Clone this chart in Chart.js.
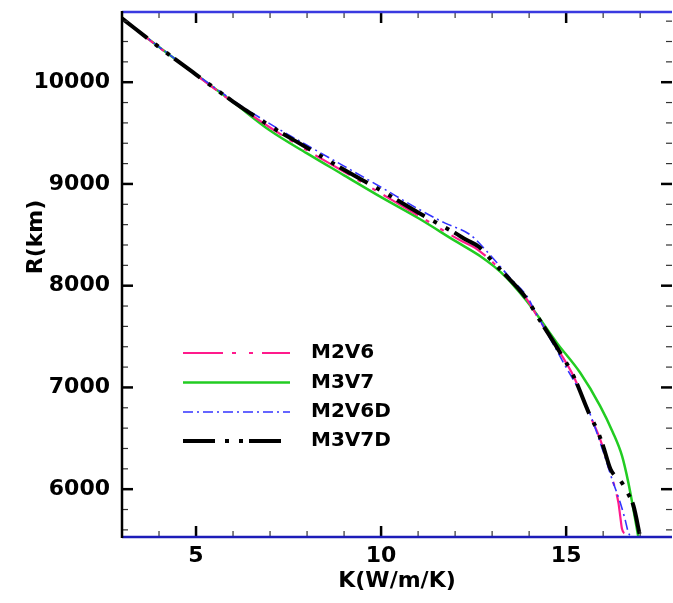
<!DOCTYPE html>
<html lang="en">
<head>
  <meta charset="UTF-8">
  <title>R(km) vs K(W/m/K)</title>
  <script src="https://cdn.jsdelivr.net/npm/chart.js"></script>
  <style>
    body { margin: 0; background: #fff; }
  </style>
</head>
<body>
  <canvas id="myChart" width="673" height="603"></canvas>

  <script>
    // ---- data ----
    const kM2V6 = [3, 4, 5, 6, 7, 8, 9, 10, 11, 11.6, 12.2, 12.55, 13.05, 13.4, 13.7, 13.95, 14.25, 14.84, 15.2, 15.65, 15.92, 16.19, 16.41, 16.46, 16.51, 16.6, 16.73];
    const rM2V6 = [10627, 10343, 10072, 9803, 9555, 9330, 9120, 8905, 8690, 8560, 8434, 8370, 8218, 8088, 7972, 7860, 7680, 7338, 7110, 6719, 6490, 6164, 5870, 5738, 5608, 5560, 5535];

    const kM3V7 = [3, 4, 5, 6, 7, 8, 9, 10, 11, 12, 12.7, 13.05, 13.4, 13.75, 14.1, 14.75, 15.38, 15.92, 16.26, 16.51, 16.68, 16.8, 16.95];
    const rM3V7 = [10627, 10345, 10075, 9805, 9525, 9300, 9085, 8870, 8665, 8440, 8285, 8190, 8075, 7930, 7770, 7438, 7144, 6817, 6560, 6327, 6066, 5836, 5530];

    const kM2V6D = [3, 4, 5, 6, 7, 8, 9, 10, 11, 11.73, 12.41, 12.86, 13.49, 13.94, 14.16, 14.93, 15.56, 16.01, 16.24, 16.46, 16.59, 16.68, 16.75];
    const rM2V6D = [10627, 10348, 10080, 9820, 9590, 9380, 9175, 8968, 8755, 8615, 8500, 8336, 8075, 7896, 7748, 7242, 6817, 6360, 6098, 5870, 5706, 5575, 5530];

    const kM3V7D = [3, 4, 5, 6, 7, 8, 9, 10, 11, 11.6, 12, 12.3, 12.65, 13.05, 13.4, 13.7, 13.95, 14.25, 14.84, 15.2, 15.65, 15.83, 16, 16.2, 16.5, 16.68, 16.82, 17];
    const rM3V7D = [10627, 10345, 10075, 9810, 9570, 9355, 9140, 8935, 8720, 8598, 8517, 8451, 8380, 8222, 8091, 7975, 7863, 7683, 7340, 7111, 6719, 6588, 6424, 6196, 6066, 5951, 5836, 5530];

    const xTicks = [5, 10, 15];
    const yTicks = [6000, 7000, 8000, 9000, 10000];
    const xMinor = [4, 6, 7, 8, 9, 11, 12, 13, 14, 16, 17];
    const yMinor = [5600, 5800, 6200, 6400, 6600, 6800, 7200, 7400, 7600, 7800, 8200, 8400, 8600, 8800, 9200, 9400, 9600, 9800, 10200, 10400, 10600];

    const FONT = '"DejaVu Sans", sans-serif';

    function pts(ks, rs) {
      return ks.map((k, i) => ({ x: k, y: rs[i] }));
    }

    // 在图内画图例、坐标框、向内的刻度和轴标题
    const decor = {
      id: 'decor',
      afterDraw(chart) {
        const ctx = chart.ctx;
        const a = chart.chartArea;
        const xs = chart.scales.x;
        const ys = chart.scales.y;
        ctx.save();

        // ticks pointing inward on all four sides
        function tick(x1, y1, x2, y2, w, c) {
          ctx.beginPath();
          ctx.strokeStyle = c;
          ctx.lineWidth = w;
          ctx.moveTo(x1, y1);
          ctx.lineTo(x2, y2);
          ctx.stroke();
        }
        xMinor.forEach(v => {
          const px = xs.getPixelForValue(v);
          tick(px, a.bottom, px, a.bottom - 6, 1.2, '#333');
          tick(px, a.top, px, a.top + 6, 1.2, '#333');
        });
        xTicks.forEach(v => {
          const px = xs.getPixelForValue(v);
          tick(px, a.bottom, px, a.bottom - 11, 2.5, '#000');
          tick(px, a.top, px, a.top + 11, 2.5, '#000');
        });
        yMinor.forEach(v => {
          const py = ys.getPixelForValue(v);
          tick(a.left, py, a.left + 6, py, 1.2, '#333');
          tick(a.right, py, a.right - 6, py, 1.2, '#333');
        });
        yTicks.forEach(v => {
          const py = ys.getPixelForValue(v);
          tick(a.left, py, a.left + 11, py, 2.5, '#000');
          tick(a.right, py, a.right - 11, py, 2.5, '#000');
        });

        // frame
        tick(a.left, a.top, a.right, a.top, 2.5, '#3a3ae0');
        tick(a.left, a.bottom, a.right, a.bottom, 2.5, '#1c1cb8');
        tick(a.left, a.top - 1, a.left, a.bottom + 1, 2.5, '#000');

        // legend inside the plot
        const rows = [353, 382.5, 412, 441];
        chart.data.datasets.forEach((ds, i) => {
          const y = rows[ds.legendRow];
          ctx.beginPath();
          ctx.setLineDash(ds.borderDash || []);
          ctx.lineWidth = ds.borderWidth;
          ctx.strokeStyle = ds.borderColor;
          ctx.moveTo(183, y);
          ctx.lineTo(290, y);
          ctx.stroke();
          ctx.setLineDash([]);
          ctx.fillStyle = '#000';
          ctx.font = 'bold 20px ' + FONT;
          ctx.textAlign = 'left';
          ctx.textBaseline = 'middle';
          ctx.fillText(ds.label, 311, y);
        });

        // axis titles
        ctx.fillStyle = '#000';
        ctx.font = 'bold 22px ' + FONT;
        ctx.textAlign = 'center';
        ctx.textBaseline = 'middle';
        ctx.fillText('K(W/m/K)', 397, 581);
        ctx.translate(36, 237);
        ctx.rotate(-Math.PI / 2);
        ctx.fillText('R(km)', 0, 0);

        ctx.restore();
      }
    };

    const ctx = document.getElementById('myChart').getContext('2d');
    const myChart = new Chart(ctx, {
      type: 'line',
      data: {
        datasets: [
          {
            label: 'M3V7D',
            legendRow: 3,
            order: 1,
            data: pts(kM3V7D, rM3V7D),
            borderColor: '#000000',
            borderWidth: 4,
            borderDash: [32, 10, 4, 10, 4, 6]
          },
          {
            label: 'M2V6D',
            legendRow: 2,
            order: 2,
            data: pts(kM2V6D, rM2V6D),
            borderColor: '#3333ff',
            borderWidth: 1.6,
            borderDash: [10, 4, 2, 4]
          },
          {
            label: 'M2V6',
            legendRow: 0,
            order: 3,
            data: pts(kM2V6, rM2V6),
            borderColor: '#ff1a8c',
            borderWidth: 2.2,
            borderDash: [40, 9, 4, 13, 4, 9]
          },
          {
            label: 'M3V7',
            legendRow: 1,
            order: 4,
            data: pts(kM3V7, rM3V7),
            borderColor: '#22cc22',
            borderWidth: 2.5,
            borderDash: []
          }
        ]
      },
      options: {
        responsive: false,
        animation: false,
        devicePixelRatio: 1,
        elements: {
          point: { radius: 0 },
          line: { cubicInterpolationMode: 'monotone', fill: false }
        },
        layout: { padding: { top: 12, right: 1, left: 0, bottom: 0 } },
        plugins: {
          legend: { display: false },
          tooltip: { enabled: false }
        },
        scales: {
          x: {
            type: 'linear',
            min: 3,
            max: 17.86,
            grid: { display: false, drawTicks: false },
            border: { display: false },
            afterBuildTicks: s => { s.ticks = xTicks.map(v => ({ value: v })); },
            afterFit: s => { s.height = 66; s.paddingLeft = 0; s.paddingRight = 0; },
            ticks: {
              color: '#000',
              padding: 6,
              maxRotation: 0,
              font: { family: FONT, size: 22, weight: 'bold' }
            }
          },
          y: {
            type: 'linear',
            min: 5530,
            max: 10690,
            grid: { display: false, drawTicks: false },
            border: { display: false },
            afterBuildTicks: s => { s.ticks = yTicks.map(v => ({ value: v })); },
            afterFit: s => { s.width = 122; s.paddingTop = 0; s.paddingBottom = 0; },
            ticks: {
              color: '#000',
              padding: 12,
              font: { family: FONT, size: 22, weight: 'bold' },
              callback: v => String(v)
            }
          }
        }
      },
      plugins: [decor]
    });
  </script>
</body>
</html>
